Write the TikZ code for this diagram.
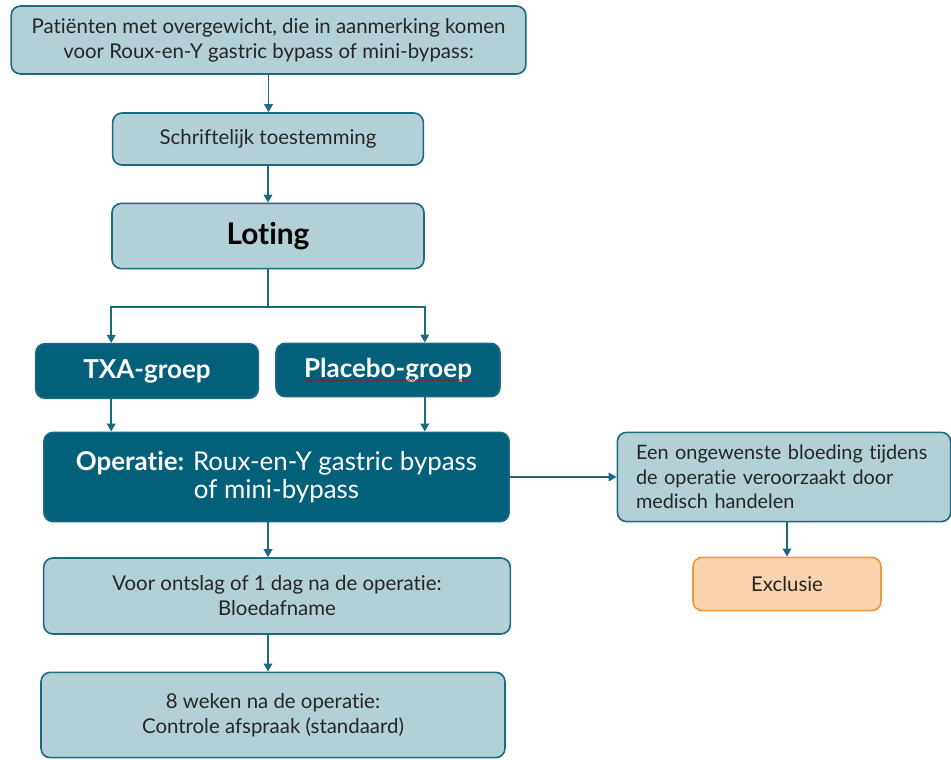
\documentclass[tikz,border=0pt]{standalone}
\usepackage{fontspec}
\setmainfont{Lato}[Ligatures=NoCommon]
\usetikzlibrary{arrows.meta,decorations.pathmorphing}

\definecolor{lightbox}{HTML}{B3D0D6}
\definecolor{darkbox}{HTML}{03607A}
\definecolor{boxline}{HTML}{1A6A80}
\definecolor{textgray}{HTML}{262626}
\definecolor{orfill}{HTML}{F8D3AE}
\definecolor{orline}{HTML}{EF953A}

\begin{document}
\begin{tikzpicture}[x=0.75pt,y=-0.75pt,
        box/.style={draw=boxline, line width=1.2pt, rounded corners=7pt,
                    inner sep=0pt, align=center, font=\fontsize{15.3}{18.7}\selectfont},
        lightstep/.style={box, fill=lightbox, text=textgray},
        darkstep/.style={box, fill=darkbox, text=white},
        exclbox/.style={box, draw=orline, fill=orfill, text=textgray},
        arr/.style={draw=boxline, line width=1.2pt, -{Triangle[length=6pt,width=6.5pt]}}]
        \useasboundingbox (0,0) rectangle (951,760);
        % nodes
        \node[lightstep, minimum width=386pt, minimum height=51pt] (pat) at (268.5,40)
              {Patiënten met overgewicht, die in aanmerking komen\\voor Roux-en-Y gastric bypass of mini-bypass:};
        \node[lightstep, minimum width=233pt, minimum height=39pt] (schr) at (268,139) {Schriftelijk toestemming};
        \node[lightstep, minimum width=234pt, minimum height=49pt, text=black,
              font=\fontsize{22.4}{26}\selectfont\bfseries] (lot) at (268,236) {Loting};
        \node[darkstep, minimum width=167pt, minimum height=41pt,
              font=\fontsize{19.5}{23}\selectfont\bfseries] (txa) at (147,371) {TXA-groep};
        \node[darkstep, minimum width=168pt, minimum height=40pt,
              font=\fontsize{19.5}{23}\selectfont\bfseries] (plac) at (388,370) {Placebo-groep};
        \node[darkstep, minimum width=349pt, minimum height=67pt,
              font=\fontsize{19.4}{21.5}\selectfont] (op) at (276.5,477)
              {\textbf{Operatie:} Roux-en-Y gastric bypass\\of mini-bypass};
        \node[lightstep, minimum width=250pt, minimum height=67pt, align=left,
              text width=222pt, font=\fontsize{14.9}{18.5}\selectfont] (een) at (784,477)
              {Een ongewenste bloeding tijdens\\de operatie veroorzaakt door\\medisch handelen};
        \node[exclbox, minimum width=141pt, minimum height=40pt] (excl) at (787,584) {Exclusie};
        \node[lightstep, minimum width=350pt, minimum height=57pt] (voor) at (277,596)
              {Voor ontslag of 1 dag na de operatie:\\Bloedafname};
        \node[lightstep, minimum width=348pt, minimum height=64pt] (acht) at (273,715)
              {8 weken na de operatie:\\Controle afspraak (standaard)};
        % spell check squiggle
        \draw[red!85!black, line width=0.4pt, decorate,
              decoration={snake, amplitude=0.5pt, segment length=2.2pt}]
              ([xshift=-62.5pt,yshift=-2pt]plac.base) -- ([xshift=62.5pt,yshift=-2pt]plac.base);
        % connectors
        \coordinate (split) at (lot.south |- 0,307);
        \draw[arr] (pat.south) -- (pat.south |- schr.north);
        \draw[arr] (schr.south) -- (lot.north);
        \draw[boxline, line width=1.2pt] (lot.south) -- (split);
        \draw[arr] (split) -| (lot.south west |- txa.north);
        \draw[arr] (split) -| (lot.south east |- plac.north);
        \draw[arr] (lot.south west |- txa.south) -- (lot.south west |- op.north);
        \draw[arr] (lot.south east |- plac.south) -- (lot.south east |- op.north);
        \draw[arr] (op.east) -- (een.west);
        \draw[arr] (excl.north |- een.south) -- (excl.north);
        \draw[arr] (lot.south |- op.south) -- (lot.south |- voor.north);
        \draw[arr] (lot.south |- voor.south) -- (lot.south |- acht.north);
    \end{tikzpicture}
\end{document}
